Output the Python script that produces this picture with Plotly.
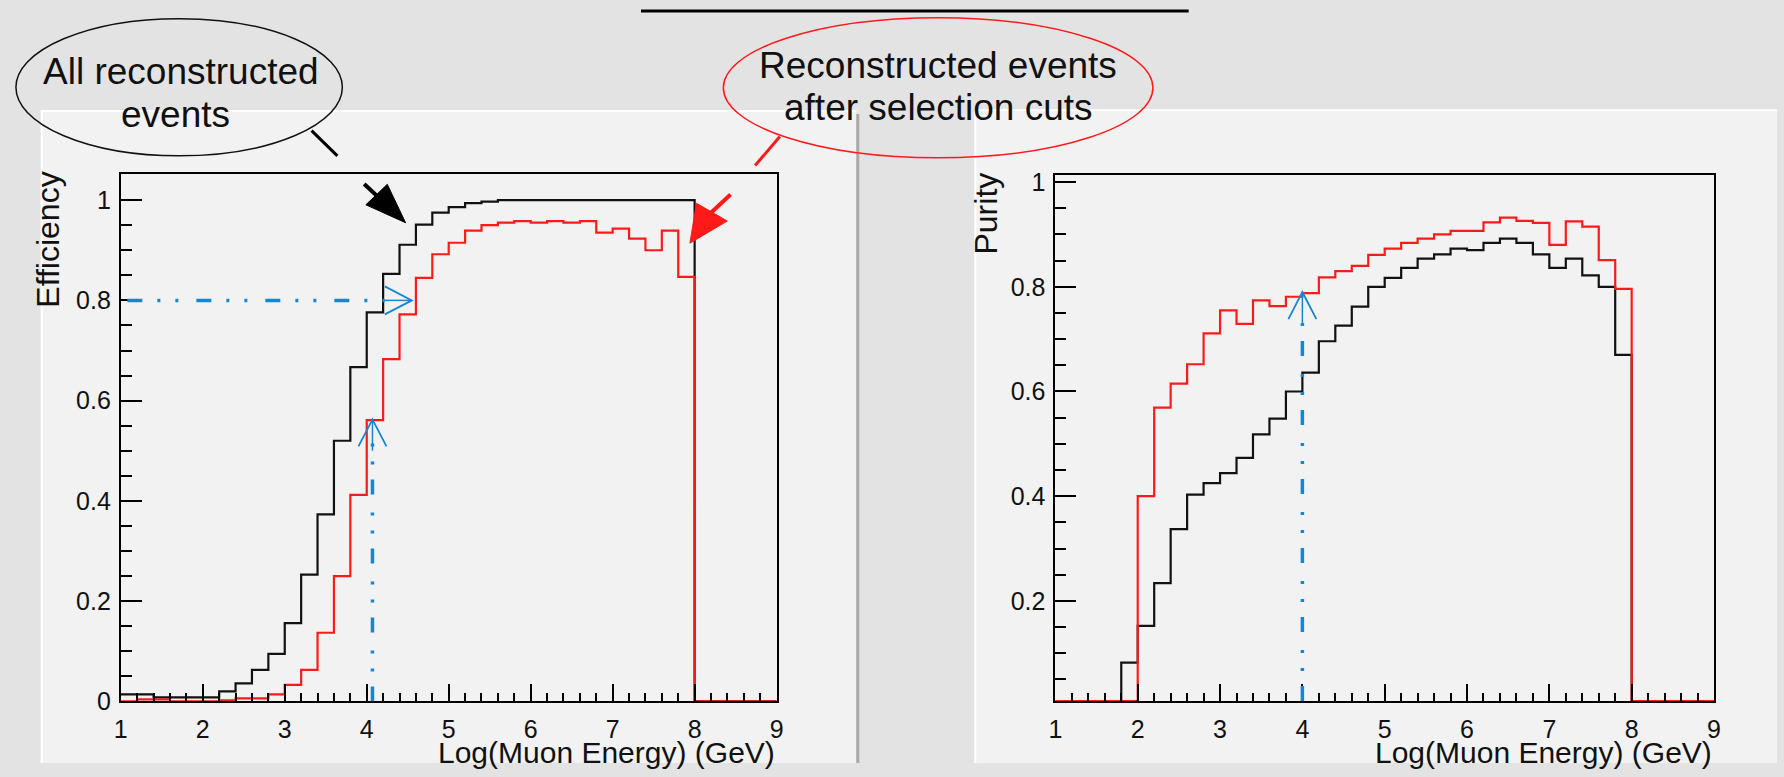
import numpy as np
import plotly.graph_objects as go

W, H = 1784, 777

# 40 bins of width 0.2 in log10(E/GeV), from 1 to 9
edges = [round(1.0 + 0.2 * i, 1) for i in range(41)]

# Efficiency: all reconstructed events (black) and after selection cuts (red)
eff_all = [0.014, 0.014, 0.008, 0.008, 0.008, 0.008, 0.020, 0.036, 0.063, 0.095,
           0.156, 0.253, 0.373, 0.520, 0.667, 0.776, 0.853, 0.911, 0.951, 0.975,
           0.986, 0.994, 0.997, 1.000, 1.000, 1.000, 1.000, 1.000, 1.000, 1.000,
           1.000, 1.000, 1.000, 1.000, 1.000, 0.0, 0.0, 0.0, 0.0, 0.0]
eff_cut = [0.000, 0.004, 0.004, 0.000, 0.000, 0.000, 0.002, 0.006, 0.006, 0.014,
           0.033, 0.063, 0.137, 0.250, 0.412, 0.561, 0.683, 0.772, 0.845, 0.892,
           0.915, 0.939, 0.950, 0.955, 0.958, 0.955, 0.958, 0.955, 0.958, 0.935,
           0.943, 0.923, 0.900, 0.939, 0.847, 0.0, 0.0, 0.0, 0.0, 0.0]

# Purity: all reconstructed events (black) and after selection cuts (red)
pur_all = [0.0, 0.0, 0.0, 0.0, 0.082, 0.152, 0.234, 0.337, 0.403, 0.425,
           0.444, 0.473, 0.518, 0.548, 0.600, 0.636, 0.696, 0.726, 0.762, 0.800,
           0.817, 0.836, 0.854, 0.862, 0.873, 0.870, 0.884, 0.892, 0.884, 0.862,
           0.836, 0.854, 0.822, 0.800, 0.670, 0.0, 0.0, 0.0, 0.0, 0.0]
pur_cut = [0.0, 0.0, 0.0, 0.0, 0.0, 0.400, 0.569, 0.615, 0.652, 0.711,
           0.755, 0.729, 0.774, 0.763, 0.781, 0.788, 0.818, 0.830, 0.840, 0.861,
           0.873, 0.884, 0.892, 0.900, 0.907, 0.907, 0.923, 0.932, 0.926, 0.922,
           0.880, 0.925, 0.915, 0.851, 0.796, 0.0, 0.0, 0.0, 0.0, 0.0]

# Reference markers: 80% efficiency and the energy thresholds
eff_level = 0.8
eff_level_x = 4.55
eff_thr_x = 4.07
eff_thr_y = 0.5625
pur_thr_x = 4.0
pur_thr_y = 0.79

EFF_YMAX = 1.0514
PUR_YMIN, PUR_YMAX = 0.0086, 1.0143

FONT = "Liberation Sans, Arial, Helvetica, sans-serif"
BLUE = "#1487d4"
PAGE = "#e3e3e3"
TICKFONT = dict(family=FONT, size=25, color="#111111")


def px(x):
    return x / W


def py(y):
    return 1 - y / H


def step(vals, floor=None):
    v = list(vals) + [vals[-1]]
    if floor is not None:
        v = [max(a, floor) for a in v]
    return v


fig = go.Figure()

for vals, col, xa, ya, fl in [
    (eff_all, "#111111", "x", "y", None),
    (eff_cut, "#ff1a1a", "x", "y", None),
    (pur_all, "#111111", "x2", "y2", PUR_YMIN),
    (pur_cut, "#ff1a1a", "x2", "y2", PUR_YMIN),
]:
    fig.add_trace(go.Scatter(
        x=edges, y=step(vals, fl), mode="lines", line_shape="hv",
        line=dict(color=col, width=2.2), xaxis=xa, yaxis=ya,
        showlegend=False, hoverinfo="skip"))


def xaxis_style(lo, hi, anchor):
    return dict(
        domain=[px(lo), px(hi)], anchor=anchor, range=[1, 9],
        showline=True, linecolor="black", linewidth=2, mirror=True,
        showgrid=False, zeroline=False,
        ticks="inside", tickwidth=2, tickcolor="black", ticklen=17,
        tick0=1, dtick=1, tickfont=TICKFONT, ticklabelstandoff=5,
        minor=dict(tick0=1, dtick=0.2, ticks="inside", ticklen=8,
                   tickwidth=2, tickcolor="black"),
    )


def yaxis_style(bottom, top, rng, anchor):
    return dict(
        domain=[py(bottom), py(top)], anchor=anchor, range=rng,
        showline=True, linecolor="black", linewidth=2, mirror=True,
        showgrid=False, zeroline=False,
        ticks="inside", tickwidth=2, tickcolor="black", ticklen=21,
        tick0=0, dtick=0.2, tickfont=TICKFONT, ticklabelstandoff=3,
        minor=dict(tick0=0, dtick=0.05, ticks="inside", ticklen=11,
                   tickwidth=2, tickcolor="black"),
    )


fig.update_layout(
    width=W, height=H, autosize=False,
    margin=dict(l=0, r=0, t=0, b=0),
    paper_bgcolor=PAGE, plot_bgcolor="rgba(0,0,0,0)",
    xaxis=xaxis_style(114.7, 775.7, "y"),
    yaxis=yaxis_style(713.7, 172, [0, EFF_YMAX], "x"),
    xaxis2=xaxis_style(1056.7, 1720.5, "y2"),
    yaxis2=yaxis_style(713.3, 172.3, [PUR_YMIN, PUR_YMAX], "x2"),
)

shapes = []

# slide panels behind the two canvases
shapes += [
    dict(type="rect", xref="paper", yref="paper", layer="below",
         x0=px(34), x1=px(856), y0=py(777), y1=py(106),
         fillcolor="#f2f2f2", line=dict(width=0)),
    dict(type="rect", xref="paper", yref="paper", layer="below",
         x0=px(975), x1=px(1784), y0=py(777), y1=py(105),
         fillcolor="#f2f2f2", line=dict(width=0)),
    dict(type="line", xref="paper", yref="paper", layer="below",
         x0=px(34), x1=px(856), y0=py(107), y1=py(107),
         line=dict(color="white", width=2)),
    dict(type="line", xref="paper", yref="paper", layer="below",
         x0=px(35), x1=px(35), y0=py(107), y1=py(777),
         line=dict(color="white", width=2)),
    dict(type="line", xref="paper", yref="paper", layer="below",
         x0=px(857.5), x1=px(857.5), y0=py(110), y1=py(777),
         line=dict(color="#a9a9a9", width=3)),
    dict(type="line", xref="paper", yref="paper", layer="below",
         x0=px(975), x1=px(1784), y0=py(106), y1=py(106),
         line=dict(color="white", width=2)),
    dict(type="line", xref="paper", yref="paper", layer="below",
         x0=px(976), x1=px(976), y0=py(106), y1=py(777),
         line=dict(color="white", width=2)),
]

# title underline at the top edge
shapes.append(dict(type="line", xref="paper", yref="paper",
                   x0=px(639), x1=px(1191), y0=py(4), y1=py(4),
                   line=dict(color="black", width=3)))

# callout ellipses and pointers
shapes += [
    dict(type="circle", xref="paper", yref="paper",
         x0=px(9), x1=px(338), y0=py(153), y1=py(12),
         line=dict(color="#111111", width=1.5)),
    dict(type="circle", xref="paper", yref="paper",
         x0=px(722), x1=px(1155), y0=py(155), y1=py(11),
         line=dict(color="#ff1a1a", width=1.5)),
    dict(type="line", xref="paper", yref="paper",
         x0=px(307), x1=px(333), y0=py(127), y1=py(153),
         line=dict(color="black", width=3)),
    dict(type="line", xref="paper", yref="paper",
         x0=px(779), x1=px(754), y0=py(133), y1=py(163),
         line=dict(color="#ff1a1a", width=3)),
    # black filled arrow
    dict(type="line", xref="paper", yref="paper",
         x0=px(360), x1=px(376), y0=py(182), y1=py(197),
         line=dict(color="black", width=4)),
    dict(type="path", xref="paper", yref="paper",
         path="M {} {} L {} {} L {} {} Z".format(px(401.7), py(221.7), px(361.7), py(203.3),
                                                px(383.3), py(182.3)),
         fillcolor="black", line=dict(color="black", width=1)),
    # red filled arrow
    dict(type="line", xref="paper", yref="paper",
         x0=px(729.3), x1=px(709), y0=py(192.7), y1=py(212),
         line=dict(color="#ff1a1a", width=4)),
    dict(type="path", xref="paper", yref="paper",
         path="M {} {} L {} {} L {} {} Z".format(px(688.3), py(242.7), px(695), py(201.7),
                                                px(726), py(220)),
         fillcolor="#ff1a1a", line=dict(color="#ff1a1a", width=1)),
]

DASH = "15px,15px,3px,15px,3px,18px"

# 80% efficiency level -> arrow
shapes += [
    dict(type="line", xref="x", yref="y", x0=1.08, x1=4.22, y0=eff_level, y1=eff_level,
         line=dict(color=BLUE, width=3.5, dash=DASH)),
    dict(type="line", xref="x", yref="y", x0=4.22, x1=eff_level_x, y0=eff_level, y1=eff_level,
         line=dict(color=BLUE, width=1.5)),
    dict(type="path", xref="x", yref="y", xsizemode="pixel", ysizemode="pixel",
         xanchor=eff_level_x, yanchor=eff_level, path="M -27 14 L 0 0 L -27 -14",
         line=dict(color=BLUE, width=1.8)),
]
# efficiency threshold
shapes += [
    dict(type="line", xref="x", yref="y", x0=eff_thr_x, x1=eff_thr_x, y0=0.0, y1=0.52,
         line=dict(color=BLUE, width=3.5, dash=DASH)),
    dict(type="line", xref="x", yref="y", x0=eff_thr_x, x1=eff_thr_x, y0=0.50, y1=eff_thr_y,
         line=dict(color=BLUE, width=1.5)),
    dict(type="path", xref="x", yref="y", xsizemode="pixel", ysizemode="pixel",
         xanchor=eff_thr_x, yanchor=eff_thr_y, path="M -14 -27 L 0 0 L 14 -27",
         line=dict(color=BLUE, width=1.8)),
]
# purity threshold
shapes += [
    dict(type="line", xref="x2", yref="y2", x0=pur_thr_x, x1=pur_thr_x, y0=PUR_YMIN, y1=0.734,
         line=dict(color=BLUE, width=3.5, dash=DASH)),
    dict(type="line", xref="x2", yref="y2", x0=pur_thr_x, x1=pur_thr_x, y0=0.73, y1=pur_thr_y,
         line=dict(color=BLUE, width=1.5)),
    dict(type="path", xref="x2", yref="y2", xsizemode="pixel", ysizemode="pixel",
         xanchor=pur_thr_x, yanchor=pur_thr_y, path="M -14 -27 L 0 0 L 14 -27",
         line=dict(color=BLUE, width=1.8)),
]

fig.update_layout(shapes=shapes)

ann = []


def text(s, x, y, size, xanchor="center", angle=0):
    ann.append(dict(text=s, xref="paper", yref="paper", x=px(x), y=py(y),
                    xanchor=xanchor, yanchor="middle", showarrow=False,
                    textangle=angle, font=dict(family=FONT, size=size, color="#111111")))


text("All reconstructed", 175, 66, 37)
text("events", 170, 111, 37)
text("Reconstructed events", 938.5, 60, 37)
text("after selection cuts", 938.5, 103, 37)

text("Efficiency", 41, 239.5, 32, angle=-90)
text("Purity", 987, 212, 32, angle=-90)
text("Log(Muon Energy) (GeV)", 775.7, 766, 30, xanchor="right")
text("Log(Muon Energy) (GeV)", 1720.5, 766, 30, xanchor="right")

fig.update_layout(annotations=ann)

fig.write_html("out.html")
